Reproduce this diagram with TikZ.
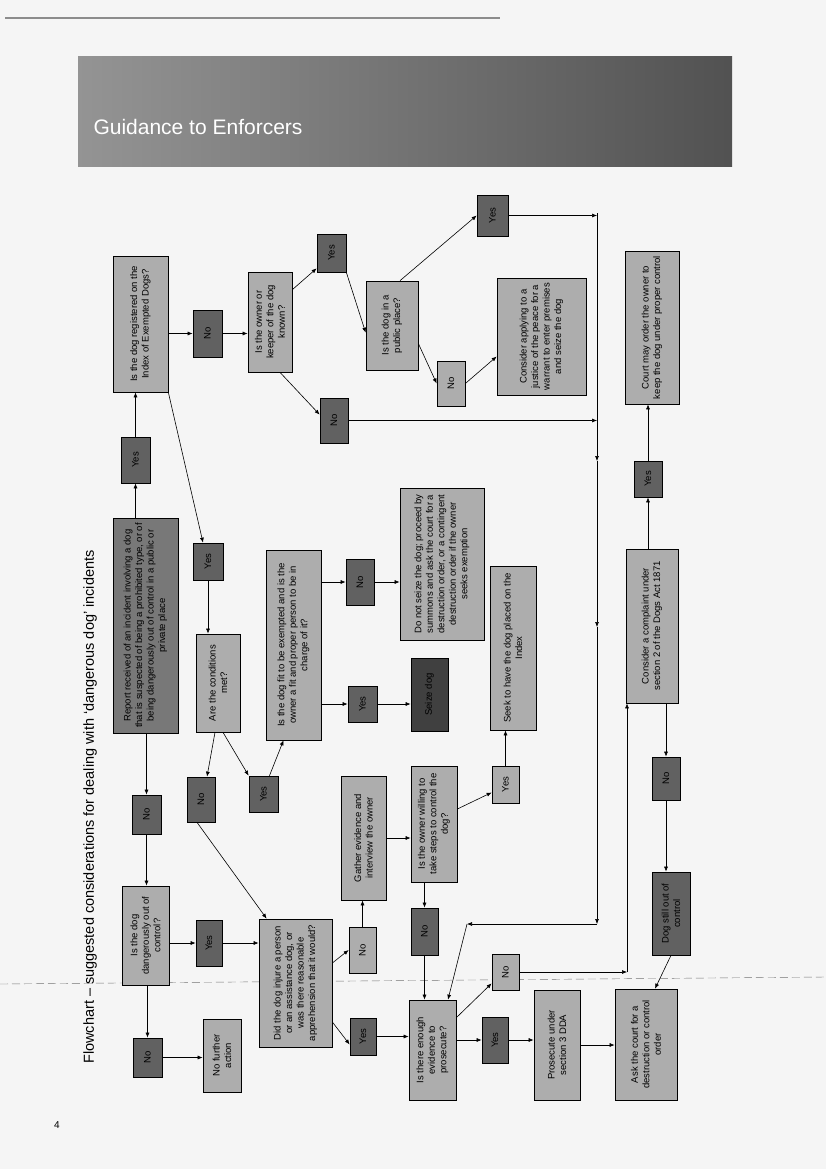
\documentclass[tikz,border=0pt]{standalone}
\usepackage{fontspec}
\setmainfont{Liberation Sans}
\usepackage{graphicx}
\usetikzlibrary{positioning,calc}
\usetikzlibrary{arrows.meta}
\definecolor{PageTint}{gray}{0.96}
\definecolor{BoxGray}{gray}{0.68}
\definecolor{DecGray}{gray}{0.38}
\definecolor{StartGray}{gray}{0.47}
\definecolor{SeizeGray}{gray}{0.25}
\definecolor{BandLeft}{gray}{0.58}
\definecolor{BandRight}{gray}{0.32}
\newcommand{\vt}[2]{\rotatebox{90}{\parbox{#1pt}{\centering #2}}}
\tikzset{
	lbox/.style={draw=black,fill=BoxGray,line width=0.7pt,inner sep=0pt,
		font=\fontsize{9.5}{11.5}\selectfont},
	dbox/.style={lbox,fill=DecGray},
	sbox/.style={lbox,fill=StartGray},
	kbox/.style={lbox,fill=SeizeGray},
	sz/.style 2 args={minimum width=#1pt,minimum height=#2pt},
	arr/.style={-{Latex[length=5pt,width=4pt]},line width=0.6pt},
}

\begin{document}
\begin{tikzpicture}[x=1pt,y=-1pt]
	\useasboundingbox (0,0) rectangle (826,1169);
	\fill[PageTint] (0,0) rectangle (826,1169);
	\draw[black!45,line width=1.5pt] (5,18) -- (500,18);
	\draw[black!55,dash pattern=on 8pt off 4pt] (0,984) -- (826,977);
	% header
	\shade[left color=BandLeft,right color=BandRight] (78,57) rectangle (732,167);
	\node[anchor=west,text=white,font=\fontsize{21}{24}\selectfont] (head) at (90,127) {Guidance to Enforcers};
	\node[rotate=90,font=\fontsize{14.5}{16}\selectfont] (title) at (90,807) {Flowchart – suggested considerations for dealing with ‘dangerous dog’ incidents};
	\node[font=\fontsize{10}{12}\selectfont] (pg) at (57,1125) {4};
	% boxes
	\node[sbox,sz={65}{215}] (start) at (145.5,625.5) {\vt{205}{Report received of an incident involving a dog that is suspected of being a prohibited type, or of being dangerously out of control in a public or private place}};
	\node[dbox,sz={29}{46}] (yes1) at (135.5,460) {\vt{40}{Yes}};
	\node[lbox,sz={55}{136}] (index) at (140.5,324) {\vt{126}{Is the dog registered on the Index of Exempted Dogs?}};
	\node[dbox,sz={29}{39}] (no1) at (146.5,814.5) {\vt{33}{No}};
	\node[lbox,sz={47}{99}] (control) at (145.5,935.5) {\vt{89}{Is the dog dangerously out of control?}};
	\node[dbox,sz={29}{39}] (no2) at (147.5,1057.5) {\vt{33}{No}};
	\node[lbox,sz={38}{73}] (nfa) at (222,1055.5) {\vt{63}{No further action}};
	\node[dbox,sz={26}{46}] (yes2) at (209,943) {\vt{40}{Yes}};
	\node[lbox,sz={73}{128}] (injure) at (295.5,983) {\vt{118}{Did the dog injure a person or an assistance dog, or was there reasonable apprehension that it would?}};
	\node[dbox,sz={29}{47}] (no3) at (207.5,333.5) {\vt{41}{No}};
	\node[lbox,sz={44}{100}] (owner) at (270,322) {\vt{90}{Is the owner or keeper of the dog known?}};
	\node[dbox,sz={29}{38}] (yes3) at (331.5,253) {\vt{32}{Yes}};
	\node[lbox,sz={52}{89}] (public) at (392,325.5) {\vt{79}{Is the dog in a public place?}};
	\node[dbox,sz={31}{41}] (yes4) at (492.5,215.5) {\vt{35}{Yes}};
	\node[lbox,sz={28}{45}] (no4) at (451,383.5) {\vt{39}{No}};
	\node[lbox,sz={89}{117}] (warrant) at (541.5,336.5) {\vt{107}{Consider applying to a justice of the peace for a warrant to enter premises and seize the dog}};
	\node[dbox,sz={28}{45}] (no5) at (334,420.5) {\vt{39}{No}};
	\node[dbox,sz={30}{37}] (yes5) at (208,561.5) {\vt{31}{Yes}};
	\node[lbox,sz={44}{98}] (cond) at (218,683) {\vt{88}{Are the conditions met?}};
	\node[dbox,sz={28}{45}] (no6) at (201,799.5) {\vt{39}{No}};
	\node[dbox,sz={29}{36}] (yes6) at (263.5,794) {\vt{30}{Yes}};
	\node[lbox,sz={55}{190}] (fit) at (293.5,645) {\vt{180}{Is the dog fit to be exempted and is the owner a fit and proper person to be in charge of it?}};
	\node[dbox,sz={28}{46}] (no7) at (360,582) {\vt{40}{No}};
	\node[lbox,sz={84}{152}] (summons) at (442,564) {\vt{142}{Do not seize the dog; proceed by summons and ask the court for a destruction order, or a contingent destruction order if the owner seeks exemption}};
	\node[dbox,sz={29}{36}] (yes7) at (362.5,704) {\vt{30}{Yes}};
	\node[kbox,sz={37}{73}] (seize) at (429.5,694.5) {\vt{63}{Seize dog}};
	\node[lbox,sz={46}{164}] (exempt) at (513,648) {\vt{154}{Seek to have the dog placed on the Index}};
	\node[lbox,sz={27}{37}] (yes8) at (505.5,784.5) {\vt{31}{Yes}};
	\node[lbox,sz={45}{124}] (evidence) at (363.5,838) {\vt{114}{Gather evidence and interview the owner}};
	\node[lbox,sz={46}{116}] (willing) at (434,824) {\vt{106}{Is the owner willing to take steps to control the dog?}};
	\node[dbox,sz={27}{47}] (no8) at (424.5,931.5) {\vt{41}{No}};
	\node[lbox,sz={27}{46}] (no9) at (362.5,950) {\vt{40}{No}};
	\node[dbox,sz={26}{37}] (yes9) at (363,1036.5) {\vt{31}{Yes}};
	\node[lbox,sz={47}{100}] (enough) at (432.5,1050) {\vt{90}{Is there enough evidence to prosecute?}};
	\node[lbox,sz={27}{36}] (no10) at (505.5,972) {\vt{30}{No}};
	\node[dbox,sz={26}{46}] (yes10) at (495,1040) {\vt{40}{Yes}};
	\node[lbox,sz={46}{110}] (prosecute) at (557,1045) {\vt{100}{Prosecute under section 3 DDA}};
	\node[lbox,sz={62}{111}] (order) at (646,1044.5) {\vt{101}{Ask the court for a destruction or control order}};
	\node[lbox,sz={52}{154}] (complaint) at (652,626) {\vt{144}{Consider a complaint under section 2 of the Dogs Act 1871}};
	\node[dbox,sz={28}{36}] (yes11) at (648,479) {\vt{30}{Yes}};
	\node[lbox,sz={54}{153}] (court) at (652,327.5) {\vt{143}{Court may order the owner to keep the dog under proper control}};
	\node[dbox,sz={28}{43}] (no11) at (666,778.5) {\vt{37}{No}};
	\node[dbox,sz={38}{83}] (still) at (671,913.5) {\vt{73}{Dog still out of control}};
	% rails
	\coordinate (r1) at (597,213);
	\coordinate (r2) at (597,461);
	\coordinate (r3) at (597,627);
	\coordinate (r4) at (597,924);
	\coordinate (r5) at (467,924);
	\coordinate (rb) at (627,972);
	% connectors
	\draw[arr] (start.north -| yes1) -- (yes1.south);
	\draw[arr] (yes1.north) -- (yes1.north |- index.south);
	\draw[arr] (start.south -| no1) -- (no1.north);
	\draw[arr] (no1.south) -- (no1.south |- control.north);
	\draw[arr] (control.south -| no2) -- (no2.north);
	\draw[arr] (no2.east) -- (no2.east -| nfa.west);
	\draw[arr] (control.east |- yes2) -- (yes2.west);
	\draw[arr] (yes2.east) -- (yes2.east -| injure.west);
	\draw[arr] (index.east |- no3) -- (no3.west);
	\draw[arr] (no3.east) -- (no3.east -| owner.west);
	\draw[arr] ([yshift=-18pt]owner.north east) -- ([yshift=4pt]yes3.south west);
	\draw[arr] (yes3.south east) -- ([yshift=-52pt]public.north west);
	\draw[arr] ([xshift=10pt]owner.south) -- ([yshift=-17pt]no5.north west);
	\draw[arr] (no5.east) -- (no5.east -| r1);
	\draw[arr] ([xshift=8pt]public.north) -- (yes4.west);
	\draw[arr] (yes4.east) -- (yes4.east -| r1);
	\draw[arr] ([yshift=-18pt]public.east) -- (no4.west);
	\draw[arr] (no4.east) -- ([yshift=-20pt]warrant.west);
	\draw[arr] (index.south east) -- ([xshift=-5pt]yes5.north);
	\draw[arr] (yes5.south) -- (yes5.south |- cond.north);
	\draw[arr] ([xshift=-3pt]cond.south) -- ([xshift=6pt]no6.north);
	\draw[arr] ([xshift=5pt]cond.south) -- (yes6.north west);
	\draw[arr] ([xshift=6pt]yes6.north) -- ([xshift=-10pt]fit.south);
	\draw[arr] ([xshift=-4pt]no6.south) -- ([xshift=8pt]injure.north west);
	\draw[arr] (fit.east |- no7) -- (no7.west);
	\draw[arr] (no7.east) -- (no7.east -| summons.west);
	\draw[arr] (fit.east |- yes7) -- (yes7.west);
	\draw[arr] (yes7.east) -- (yes7.east -| seize.west);
	\draw[arr] ([yshift=20pt]injure.east) -- (no9.west);
	\draw[arr] (no9.north) -- (no9.north |- evidence.south);
	\draw[arr] ([yshift=-39pt]injure.east) -- ([yshift=-8pt]yes9.west);
	\draw[arr] (yes9.east) -- (yes9.east -| enough.west);
	\draw[arr] (evidence.east) -- (evidence.east -| willing.west);
	\draw[arr] ([yshift=15pt]willing.east) -- ([yshift=-8pt]yes8.west);
	\draw[arr] (yes8.north) -- (yes8.north |- exempt.south);
	\draw[arr] (willing.south -| no8) -- (no8.north);
	\draw[arr] (no8.south) -- (no8.south |- enough.north);
	\draw[arr] ([yshift=-18pt]enough.north east) -- ([yshift=7pt]no10.south west);
	\draw[arr] (no10.east) -- (rb);
	\draw[arr] (rb) -- (rb |- complaint.south);
	\draw[arr] (enough.east |- yes10) -- (yes10.west);
	\draw[arr] (yes10.east) -- (yes10.east -| prosecute.west);
	\draw[arr] (prosecute.east) -- (prosecute.east -| order.west);
	\draw[arr] (complaint.north -| yes11) -- (yes11.south);
	\draw[arr] (yes11.north) -- (yes11.north |- court.south);
	\draw[arr] (complaint.south -| no11) -- (no11.north);
	\draw[arr] (no11.south) -- (no11.south |- still.north);
	\draw[arr] (still.south) -- ([xshift=9pt]order.north);
	\draw[arr] (r1) -- (r2);
	\draw[arr] (r2) -- (r3);
	\draw[arr] (r3) -- (r4);
	\draw[arr] (r4) -- (r5);
	\draw[arr] (r5) -- ([xshift=15.5pt]enough.north);
\end{tikzpicture}
\end{document}
